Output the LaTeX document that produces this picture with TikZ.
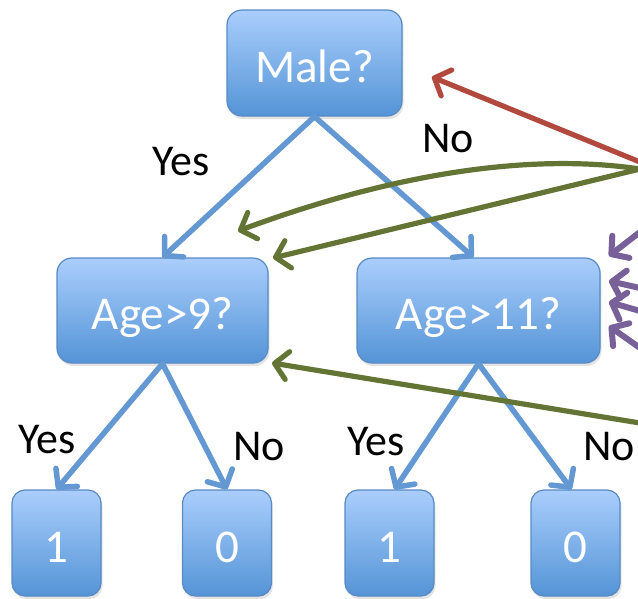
\documentclass[tikz,border=0pt]{standalone}
\usepackage{fontspec}
\setmainfont{Carlito}
\usetikzlibrary{arrows.meta,shadows}
\definecolor{boxtop}{RGB}{170,206,253}
\definecolor{boxbot}{RGB}{84,148,214}
\definecolor{boxline}{RGB}{88,138,196}
\definecolor{edgeblue}{RGB}{100,152,210}
\definecolor{redarr}{RGB}{178,73,63}
\definecolor{greenarr}{RGB}{100,116,52}
\definecolor{purparr}{RGB}{120,96,152}
\begin{document}
\begin{tikzpicture}[x=1pt,y=-1pt,
  box/.style={draw=boxline, line width=1.2pt, rounded corners=15pt,
    top color=boxtop, bottom color=boxbot, text=white,
    font=\fontsize{47}{50}\selectfont, inner sep=0pt,
    text height=40pt, text depth=2pt,
    drop shadow={opacity=0.22, shadow xshift=1.5pt, shadow yshift=-3pt}},
  lbl/.style={font=\fontsize{44}{50}\selectfont, inner sep=0pt, anchor=base west},
  treearrow/.style={draw=edgeblue, line width=5.5pt, line cap=round,
    -{Straight Barb[length=13pt,width=28pt,round]}},
  redarrow/.style={draw=redarr, line width=5.2pt,
    -{Straight Barb[length=13pt,width=28pt,round]}},
  greenarrow/.style={draw=greenarr, line width=5.2pt,
    -{Straight Barb[length=13pt,width=28pt,round]}},
  purparrow/.style={draw=purparr, line width=6pt,
    -{Straight Barb[length=12pt,width=28pt,round]}}
]
\clip (0,0) rectangle (638,598);
\fill[white] (0,0) rectangle (638,598);

% nodes
\node[box, minimum width=175pt, minimum height=106pt] (male) at (314.5,63) {Male?};
\node[box, minimum width=211pt, minimum height=105pt] (age9) at (162.5,310.5) {Age>9?};
\node[box, minimum width=243pt, minimum height=105pt] (age11) at (478.5,310.5) {Age>11?};
\node[box, rounded corners=13pt, minimum width=89pt, minimum height=106pt] (l1) at (56.5,543) {1};
\node[box, rounded corners=13pt, minimum width=89pt, minimum height=106pt] (l2) at (227,543) {0};
\node[box, rounded corners=13pt, minimum width=89pt, minimum height=106pt] (l3) at (389.5,543) {1};
\node[box, rounded corners=13pt, minimum width=89pt, minimum height=106pt] (l4) at (575.5,543) {0};

% tree connectors
\draw[treearrow] (male.south) -- (age9.north);
\draw[treearrow] (male.south) -- ([xshift=-5pt]age11.north);
\draw[treearrow] (age9.south) -- (l1.north);
\draw[treearrow] (age9.south) -- (l2.north);
\draw[treearrow] (age11.south) -- ([xshift=5pt]l3.north);
\draw[treearrow] (age11.south) -- ([xshift=-4pt]l4.north);

% labels
\node[lbl] (y1) at (152,175) {Yes};
\node[lbl] (n1) at (422,152) {No};
\node[lbl] (y2) at (18,453) {Yes};
\node[lbl] (n2) at (233,460) {No};
\node[lbl] (y3) at (347,455) {Yes};
\node[lbl] (n3) at (583,460) {No};

% coordinates for external arrows
\coordinate (rs) at (640,162);
\coordinate (rt) at (432,77);
\coordinate (gs) at (640,169);
\coordinate (gt1) at (238,231);
\coordinate (gt2) at (273,258);
\coordinate (gs3) at (640,423);
\coordinate (gt3) at (272,363);
\coordinate (p1s) at (640,232);
\coordinate (p1t) at (609,256);
\coordinate (p2s) at (640,288);
\coordinate (p2t) at (609,281);
\coordinate (p3s) at (640,311);
\coordinate (p3t) at (609,302);
\coordinate (p4s) at (640,348);
\coordinate (p4t) at (609,326);

\draw[redarrow] (rs) -- (rt);
\draw[greenarrow] (gs) .. controls (560,157) and (430,160) .. (gt1);
\draw[greenarrow] (gs) -- (gt2);
\draw[greenarrow] (gs3) -- (gt3);
\draw[purparrow] (p1s) -- (p1t);
\draw[purparrow] (p2s) -- (p2t);
\draw[purparrow] (p3s) -- (p3t);
\draw[purparrow] (p4s) -- (p4t);
\end{tikzpicture}
\end{document}
